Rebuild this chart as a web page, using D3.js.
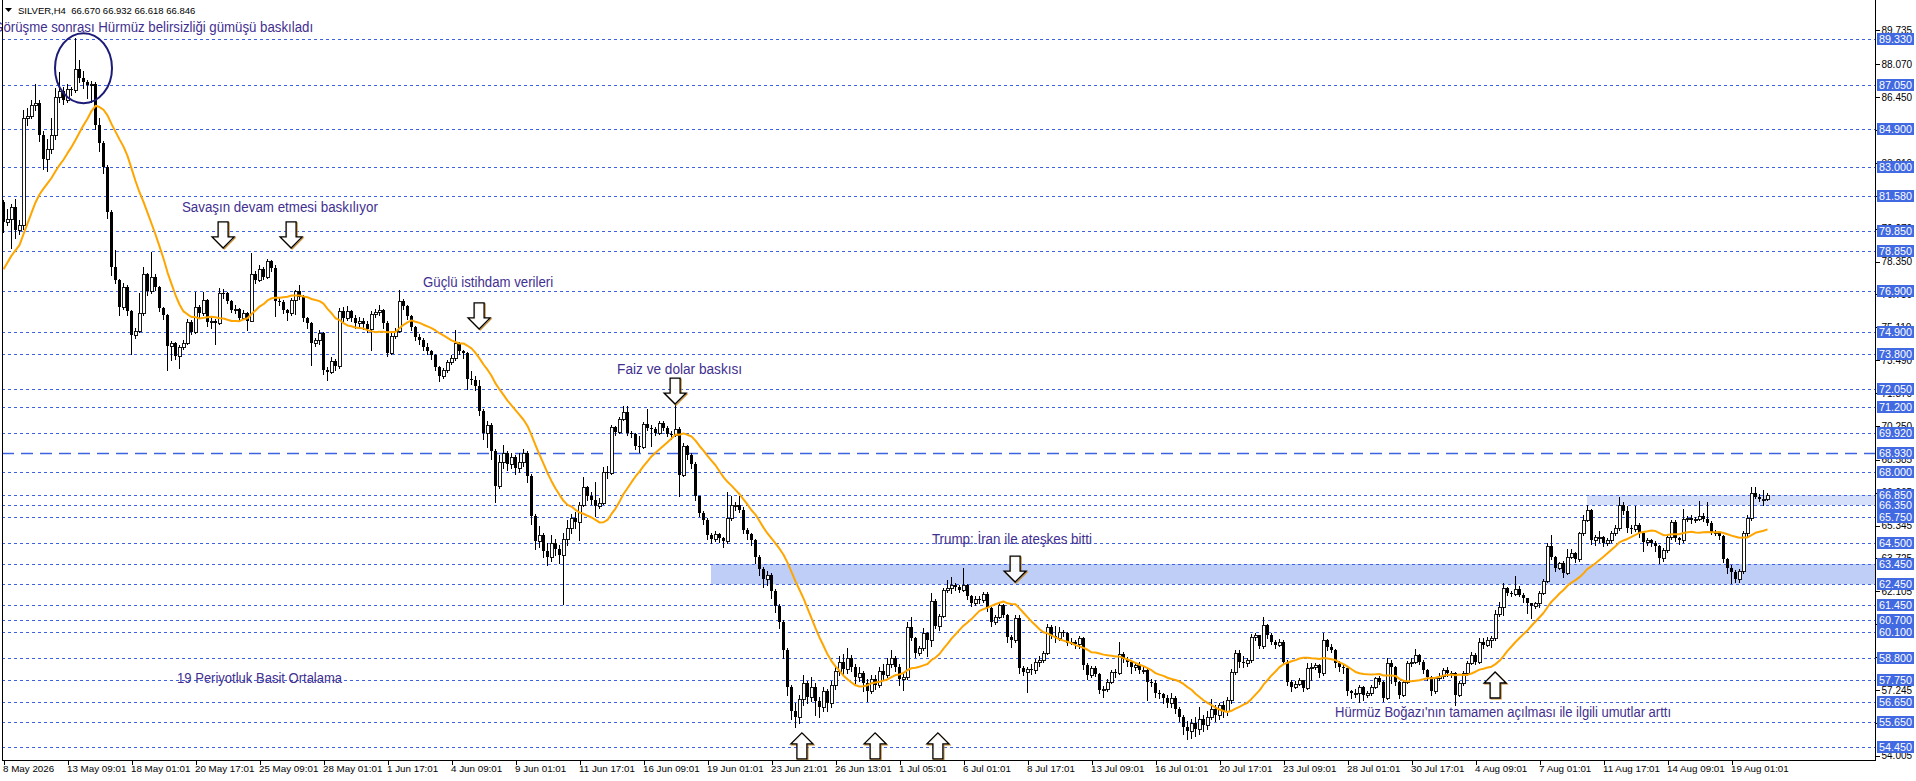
<!DOCTYPE html>
<html><head><meta charset="utf-8">
<script src="https://cdn.jsdelivr.net/npm/d3@7/dist/d3.min.js"></script>
<style>html,body{margin:0;padding:0;background:#fff;overflow:hidden}svg{display:block;font-family:"Liberation Sans",Arial,sans-serif}</style>
</head><body><svg id="c" width="1916" height="781"></svg>
<script>
// ---------------- DATA ----------------
const headerText = "SILVER,H4  66.670 66.932 66.618 66.846";
const firstOpen = 81.30;
// closes of the 18 H4 bars scrolled off the left edge (feed the 19-period SMA)
const priorCloses = [74.2,74.6,75.0,75.3,75.1,75.6,76.0,76.4,77.1,78.0,78.9,79.6,80.2,80.9,81.3,80.7,81.1,81.2];
const closes = [
80.32,80.45,81.05,79.90,80.15,85.40,85.50,86.05,86.15,84.60,
83.40,83.90,84.60,86.45,86.75,86.30,86.85,86.80,87.85,87.40,
87.20,87.05,87.12,85.10,84.20,83.00,80.80,78.10,77.45,76.13,
77.10,75.90,74.75,74.95,75.80,77.75,76.90,77.60,77.10,76.05,
75.70,74.20,74.35,73.70,74.15,74.35,75.35,74.90,76.10,75.80,
76.45,75.35,75.40,75.30,76.80,76.78,76.40,75.97,76.00,75.55,
75.80,75.40,77.75,77.45,78.00,77.60,78.40,78.05,76.40,76.35,
75.95,75.80,76.45,76.90,76.60,75.55,75.30,74.35,74.50,74.85,
73.00,72.90,73.45,73.20,75.90,75.55,75.90,75.55,75.30,75.40,
75.25,75.05,75.75,75.85,75.95,75.30,73.85,74.70,74.95,76.40,
76.15,75.65,75.15,74.65,74.50,74.15,73.95,73.75,73.15,72.70,
73.00,73.40,73.60,74.35,73.95,73.85,72.55,72.50,72.20,71.00,
69.90,70.30,69.00,67.30,68.50,68.90,68.40,68.70,68.20,68.50,
68.90,67.80,65.80,64.60,64.90,64.10,63.80,64.50,64.20,63.90,
64.70,65.20,65.70,65.50,66.35,67.25,66.80,66.60,66.30,66.45,
68.00,67.95,70.20,69.95,70.60,70.95,69.90,69.85,69.25,69.20,
70.35,70.15,70.10,69.90,70.40,70.15,69.85,69.80,70.12,67.85,
69.25,68.80,68.40,66.78,65.95,65.62,64.90,64.70,64.95,64.75,
64.60,65.70,66.35,66.38,66.12,65.13,64.95,64.65,63.80,63.20,
62.70,62.90,62.10,61.40,60.60,59.20,57.40,56.20,55.90,56.80,
57.60,56.90,57.40,56.70,56.40,57.20,56.60,57.50,58.20,58.60,
58.30,58.80,58.40,57.90,58.10,57.60,57.20,57.80,57.50,58.20,
58.00,58.50,58.80,58.40,57.80,57.90,60.37,59.80,59.05,59.30,
60.04,59.70,61.65,60.40,60.90,62.17,62.25,62.42,62.30,62.17,
62.42,61.85,61.52,61.71,61.68,61.96,61.27,60.61,60.85,61.45,
60.95,59.87,59.70,60.78,58.31,58.15,58.30,58.25,58.64,58.70,
59.05,60.37,59.90,59.80,60.12,60.05,59.55,59.60,59.50,59.80,
58.48,57.98,58.35,58.05,57.25,57.30,57.66,58.15,58.10,59.02,
58.76,58.60,58.40,58.48,58.23,58.25,57.66,57.61,57.08,57.05,
56.84,56.60,56.85,56.30,55.90,55.40,55.20,55.60,55.30,55.80,
55.50,55.90,56.30,56.00,56.50,56.20,56.75,58.15,59.05,58.60,
58.55,58.70,59.87,59.95,59.40,60.45,59.96,59.63,59.46,59.63,
58.64,57.66,57.41,57.55,57.74,57.33,58.31,58.40,58.48,58.07,
59.71,59.38,59.22,58.56,58.40,58.31,57.17,57.08,57.12,57.41,
57.00,57.08,57.41,57.82,57.66,56.84,58.56,58.40,57.66,57.00,
57.66,58.56,58.64,58.97,58.64,58.23,57.90,57.17,57.82,57.94,
58.23,58.07,58.07,57.00,57.58,58.07,58.56,58.97,58.64,59.63,
59.46,59.71,59.79,61.00,61.35,62.25,62.04,61.95,62.20,61.92,
61.76,61.51,61.38,61.51,62.04,62.63,64.34,63.81,63.24,63.48,
62.99,63.81,63.98,63.68,64.96,65.62,66.11,64.63,64.80,64.80,
64.47,64.63,64.96,65.21,66.36,66.06,65.21,65.16,65.37,64.96,
64.55,64.63,64.50,64.34,63.73,64.14,64.80,65.54,64.72,64.63,
65.66,65.74,65.60,65.66,65.84,65.66,65.49,65.04,65.04,64.83,
63.68,63.24,63.08,62.70,63.12,65.00,65.70,66.93,66.77,66.64,
66.67,66.846];
const highs = [
81.40,80.95,81.20,81.45,80.40,85.80,85.90,86.30,87.10,86.30,
84.80,84.40,85.40,86.90,87.70,86.95,87.10,86.95,89.35,88.30,
87.75,87.30,87.25,87.20,85.40,84.30,83.10,80.90,78.90,77.50,
77.30,77.20,75.95,75.10,76.80,78.10,77.80,78.80,77.75,77.15,
76.10,75.75,74.45,74.40,74.25,74.50,75.50,75.45,76.85,76.20,
76.85,76.50,75.60,75.50,77.05,77.00,76.85,76.45,76.20,76.05,
75.95,75.85,78.75,77.90,78.20,78.10,78.50,78.45,78.20,76.60,
76.45,76.00,76.55,76.95,77.20,76.70,75.60,75.35,74.60,75.00,
74.90,73.15,73.65,73.55,76.05,76.10,76.15,75.95,75.70,75.60,
75.55,75.40,75.90,76.00,76.20,76.00,75.40,74.95,75.10,76.95,
76.50,76.20,75.70,75.20,74.80,74.60,74.35,74.00,73.80,73.20,
73.10,73.50,73.75,75.00,74.40,74.00,73.90,72.95,72.70,72.50,
71.10,70.50,70.40,69.10,68.80,69.30,69.00,68.90,68.80,68.90,
69.10,69.00,67.90,65.90,65.30,65.00,64.50,64.90,64.70,64.40,
65.00,65.60,65.90,66.00,66.50,67.75,67.30,67.00,67.50,66.70,
68.25,68.30,70.30,70.25,70.70,71.25,71.25,70.00,69.90,69.75,
70.45,71.10,70.30,70.20,70.50,70.50,70.25,70.00,71.30,70.20,
69.40,69.30,68.90,68.50,66.80,66.05,65.70,65.00,65.10,65.00,
64.80,67.00,66.80,66.50,66.80,66.25,65.20,65.00,64.70,63.90,
63.30,63.10,63.00,62.20,61.50,60.70,59.30,57.50,56.60,57.00,
58.00,57.70,57.90,57.60,56.90,57.40,57.30,57.70,58.40,58.90,
59.00,59.30,58.95,58.50,58.40,58.20,57.80,58.00,58.00,58.40,
58.50,58.80,59.20,58.90,58.50,58.10,60.61,60.85,59.85,59.40,
60.30,60.10,62.00,61.75,61.00,62.25,62.67,62.83,62.50,62.40,
63.24,62.45,61.90,61.85,61.85,62.05,62.05,61.35,60.95,61.60,
61.50,61.00,59.95,60.95,60.95,58.45,58.40,58.50,58.75,58.90,
59.15,60.50,60.45,60.40,60.35,60.20,60.10,59.80,59.70,59.90,
59.85,58.55,58.45,58.45,58.10,57.45,57.80,58.25,58.30,59.63,
59.10,58.85,58.70,58.60,58.60,58.40,58.35,57.80,57.75,57.25,
57.10,57.00,57.10,56.95,56.40,56.00,55.70,55.80,55.90,56.40,
56.00,56.20,56.80,56.50,56.60,56.70,56.90,58.30,59.20,59.20,
58.90,58.80,60.00,60.05,59.95,60.86,60.50,60.05,59.70,59.75,
59.70,58.70,57.75,57.70,57.85,57.75,58.56,58.56,58.59,58.50,
60.04,59.75,59.50,59.25,58.65,58.50,58.35,57.25,57.30,57.50,
57.45,57.20,57.50,57.90,57.95,57.70,58.81,58.70,58.45,57.70,
57.75,58.65,58.80,59.25,59.00,58.70,58.30,57.95,57.90,58.10,
58.35,58.40,58.20,58.15,57.70,58.20,58.65,59.10,59.05,59.80,
59.80,59.85,59.90,61.20,61.60,62.50,62.30,62.10,62.85,62.35,
62.00,61.80,61.55,61.60,62.10,62.70,64.50,64.90,63.85,63.55,
63.60,64.20,64.20,64.05,65.05,65.85,66.36,66.15,64.90,65.10,
64.85,64.75,65.10,65.35,66.77,66.50,66.30,65.35,66.30,65.45,
65.00,64.75,64.70,64.60,64.40,64.25,64.90,65.60,65.60,64.80,
66.15,65.80,65.85,65.75,66.55,65.95,66.52,65.55,65.15,65.10,
64.90,63.75,63.40,63.15,63.20,65.10,65.85,67.26,67.26,66.90,
67.10,66.932];
const lows = [
79.82,80.15,79.00,79.50,79.70,79.95,85.10,85.40,85.80,84.30,
82.90,82.80,83.70,84.40,86.20,86.10,86.20,86.55,86.70,87.20,
86.90,86.40,86.20,84.90,83.80,82.70,80.50,77.70,77.30,75.72,
76.00,75.70,73.80,74.60,74.90,75.70,76.70,76.80,76.95,75.90,
75.50,73.00,73.50,73.55,73.10,74.05,74.30,74.80,74.85,75.60,
75.70,75.20,75.10,74.30,75.25,76.55,76.30,75.85,75.80,75.40,
75.50,75.00,75.40,77.30,77.40,77.50,77.55,77.90,75.65,76.20,
75.80,75.45,75.70,75.75,76.50,75.40,75.10,73.25,74.20,74.30,
72.80,72.50,72.85,73.00,73.10,75.40,75.45,75.40,75.10,75.20,
75.05,74.90,74.00,75.60,75.70,75.10,73.70,73.80,74.60,74.90,
76.00,75.50,75.00,74.50,74.30,74.00,73.80,73.55,73.00,72.45,
72.60,72.90,73.30,73.50,73.80,73.60,72.05,72.30,72.00,70.80,
69.60,69.20,68.60,66.50,67.20,68.20,68.10,68.20,67.90,68.00,
68.30,67.50,65.40,64.20,64.30,63.80,63.40,63.60,63.90,63.50,
61.50,64.40,65.00,65.20,64.65,66.30,66.60,66.40,65.80,66.20,
66.40,67.70,67.90,69.80,69.90,70.55,69.80,69.70,69.10,68.95,
69.15,70.05,69.25,69.80,69.85,70.05,69.75,69.60,69.75,66.80,
67.80,68.60,68.20,66.60,65.80,65.40,64.70,64.50,64.60,64.55,
64.30,64.50,65.60,66.10,66.00,65.00,64.70,64.40,63.50,62.90,
62.30,62.40,61.80,61.10,60.30,58.80,57.00,55.80,55.40,55.60,
56.50,56.60,56.70,56.00,55.90,56.20,56.20,56.40,57.30,58.00,
58.00,58.10,58.20,57.60,57.70,57.20,56.70,57.10,57.30,57.40,
57.80,57.90,58.40,58.20,57.50,57.25,57.80,59.70,58.89,58.95,
59.20,58.90,59.40,60.30,60.20,60.85,62.05,62.00,62.15,62.05,
62.10,61.75,61.40,61.45,61.55,61.60,61.15,60.40,60.50,60.80,
60.85,59.60,59.35,59.60,58.10,58.00,57.15,58.05,58.10,58.45,
58.60,59.00,59.80,59.60,59.70,59.90,59.45,59.50,59.30,59.30,
58.30,57.80,57.90,57.95,57.10,56.90,57.20,57.60,57.90,58.05,
58.60,58.45,58.10,58.25,58.10,58.10,56.75,57.45,56.90,56.85,
56.60,56.40,56.40,56.10,55.70,55.10,54.85,54.90,55.00,55.10,
55.20,55.30,55.80,55.70,55.80,55.90,56.00,56.60,58.05,58.40,
58.40,58.45,58.60,59.70,59.30,59.30,59.80,59.50,59.30,59.40,
58.50,57.50,57.20,57.35,57.50,57.17,57.30,57.74,58.30,57.90,
58.00,59.20,59.10,58.40,58.20,58.10,57.00,56.85,56.90,56.67,
56.76,56.90,57.00,57.35,57.55,56.70,56.80,57.60,57.50,56.85,
56.95,57.60,58.45,58.55,58.50,58.10,57.75,57.00,57.10,57.75,
57.85,57.95,57.90,56.51,56.95,57.50,58.00,58.50,58.50,58.55,
59.30,59.40,59.35,59.70,60.90,60.94,61.90,61.85,61.90,61.85,
61.60,61.02,60.78,61.30,61.35,61.95,62.55,63.70,63.10,63.20,
62.80,62.95,63.75,63.55,63.60,64.90,65.55,64.45,64.40,64.55,
64.35,64.40,64.55,64.90,65.15,65.90,65.05,65.00,65.10,64.80,
64.10,64.40,64.35,64.10,63.50,63.60,64.05,64.70,64.60,64.45,
64.55,65.55,65.45,65.50,65.60,65.55,65.35,64.95,64.90,64.70,
63.55,63.00,62.50,62.55,62.55,63.00,64.85,65.60,66.70,66.55,
66.36,66.618];

const dateTickIndex = [0,16,32,48,64,80,96,112,128,144,160,176,192,208,224,240,256,272,288,304,320,336,352,368,384,400,416,432];
const dateTickLabels = ["8 May 2026","13 May 09:01","18 May 01:01","20 May 17:01","25 May 09:01","28 May 01:01","1 Jun 17:01","4 Jun 09:01","9 Jun 01:01","11 Jun 17:01","16 Jun 09:01","19 Jun 01:01","23 Jun 21:01","26 Jun 13:01","1 Jul 05:01","6 Jul 01:01","8 Jul 17:01","13 Jul 09:01","16 Jul 01:01","20 Jul 17:01","23 Jul 09:01","28 Jul 01:01","30 Jul 17:01","4 Aug 09:01","7 Aug 01:01","11 Aug 17:01","14 Aug 09:01","19 Aug 01:01"];
const priceTicks = [89.735,88.070,86.450,84.830,83.210,81.590,79.970,78.350,76.730,75.110,73.490,71.870,70.250,68.585,66.965,65.345,63.725,62.105,60.485,58.865,57.245,55.625,54.005];
const levels = [89.33,87.05,84.90,83.00,81.58,79.85,78.85,76.90,74.90,73.80,72.05,71.20,69.92,68.00,66.85,66.35,65.75,64.50,63.45,62.45,61.45,60.70,60.10,58.80,57.75,56.65,55.65,54.45];
const longDashLevel = 68.93;
const bandFrom = [177, 396];      // first bar of each zone
const bandLow  = [62.45, 66.35];
const bandHigh = [63.45, 66.85];
const noteTexts  = ["Görüşme sonrası Hürmüz belirsizliği gümüşü baskıladı","Savaşın devam etmesi baskılıyor","Güçlü istihdam verileri","Faiz ve dolar baskısı","Trump: İran ile ateşkes bitti","19 Periyotluk Basit Ortalama","Hürmüz Boğazı'nın tamamen açılması ile ilgili umutlar arttı"];
const noteBar    = [-2.6, 44.6, 104.9, 153.4, 232.1, 43.4, 332.9];
const notePrice  = [89.91, 81.04, 77.35, 73.05, 64.70, 57.84, 56.15];
const downArrowBar   = [54.9, 71.9, 118.9, 167.9, 252.9];
const downArrowPrice = [79.02, 79.02, 75.03, 71.33, 62.56];
const upArrowBar   = [199.6, 217.9, 233.6, 372.9];
const upArrowPrice = [55.13, 55.13, 55.13, 58.13];
const peakBar = 20, peakPrice = 87.88;
const maPeriod = 19;

// ---------------- LAYOUT ----------------
const L = 2, R = 1875, T = 0, B = 760;
const svg = d3.select('#c');
const x = d3.scaleLinear().domain([0, 441]).range([3.5, 1767.5]);
const y = d3.scaleLinear().domain([54.45, 89.33]).range([746.7, 38.7]);
const py = v => Math.round(y(v)) + 0.5;
const noteWidths = [320, 196, 130, 125, 160, 165, 336];
const BLUE = '#3d63e0', LABEL = '#4169e1', NOTE = '#3f2f8f';

svg.append('rect').attr('width',1916).attr('height',781).attr('fill','#fff');
svg.append('defs').append('clipPath').attr('id','plot').append('rect')
  .attr('x',L).attr('y',T).attr('width',R-L).attr('height',B-T);
const plot = svg.append('g').attr('clip-path','url(#plot)');

// zones
plot.selectAll('rect.band').data(bandFrom).join('rect')
  .attr('x', d => Math.round(x(d) - 0.5)).attr('width', (d) => R - Math.round(x(d) - 0.5))
  .attr('y', (d,k) => y(bandHigh[k])).attr('height', (d,k) => y(bandLow[k]) - y(bandHigh[k]))
  .attr('fill', (d,k) => k === 0 ? '#bfcef6' : '#d5dff9');

// horizontal levels
plot.selectAll('line.lvl').data(levels).join('line')
  .attr('x1', L).attr('x2', R).attr('y1', py).attr('y2', py)
  .attr('stroke', BLUE).attr('stroke-width',1).attr('stroke-dasharray','3,3');
plot.append('line').attr('x1',L).attr('x2',R).attr('y1',py(longDashLevel)).attr('y2',py(longDashLevel))
  .attr('stroke', BLUE).attr('stroke-width',1.3).attr('stroke-dasharray','12,7');

// candles
const candles = closes.map((c,i) => {
  const o = i === 0 ? firstOpen : closes[i-1];
  return {i, o, c, h: Math.max(highs[i], o, c), l: Math.min(lows[i], o, c)};
});
const cg = plot.append('g').attr('shape-rendering','crispEdges');
cg.selectAll('line').data(candles).join('line')
  .attr('x1', d => x(d.i)).attr('x2', d => x(d.i))
  .attr('y1', d => Math.round(y(d.h))).attr('y2', d => Math.round(y(d.l)) + 1)
  .attr('stroke','#000').attr('stroke-width',1);
cg.selectAll('rect').data(candles).join('rect')
  .attr('x', d => x(d.i) - 1.5).attr('width', 3)
  .attr('y', d => Math.round(y(Math.max(d.o,d.c))))
  .attr('height', d => Math.max(1, Math.round(y(Math.min(d.o,d.c))) - Math.round(y(Math.max(d.o,d.c)))))
  .attr('fill', d => d.c >= d.o ? '#fff' : '#000')
  .attr('stroke', '#000').attr('stroke-width', d => d.c >= d.o ? 0.9 : 0);

// 19-period simple moving average
const allC = priorCloses.concat(closes);
const ma = closes.map((c,i) => { const k = i + priorCloses.length; return d3.mean(allC.slice(k - maPeriod + 1, k + 1)); });
plot.append('path').datum(ma)
  .attr('d', d3.line().x((d,i) => x(i)).y(d => y(d)))
  .attr('fill','none').attr('stroke','#ffa500').attr('stroke-width',2).attr('stroke-linejoin','round');

// circle around the top
plot.append('ellipse').attr('cx', x(peakBar)).attr('cy', y(peakPrice)).attr('rx', 28.5).attr('ry', 35)
  .attr('fill','none').attr('stroke','#1c1c78').attr('stroke-width',2);

// arrows
function arrowPath(tx, ty, dir) {
  const s = dir; // 1 = down (tip at bottom), -1 = up (tip at top)
  const p = [[0,0],[11,-11*s],[5,-11*s],[5,-26*s],[-5,-26*s],[-5,-11*s],[-11,-11*s]];
  return 'M' + p.map(q => (tx+q[0]) + ',' + (ty+q[1])).join('L') + 'Z';
}
const arrows = downArrowBar.map((b,k) => ({tx: x(b), ty: y(downArrowPrice[k]), dir: 1}))
  .concat(upArrowBar.map((b,k) => ({tx: x(b), ty: y(upArrowPrice[k]), dir: -1})));
const ag = svg.append('g');
ag.selectAll('path.sh').data(arrows).join('path')
  .attr('d', d => arrowPath(d.tx + 1, d.ty + 1, d.dir)).attr('fill','none')
  .attr('stroke','#c98a2a').attr('stroke-width',1.2);
ag.selectAll('path.ar').data(arrows).join('path')
  .attr('d', d => arrowPath(d.tx, d.ty, d.dir)).attr('fill','#fff').attr('fill-opacity',0.9)
  .attr('stroke','#000').attr('stroke-width',1.3).attr('stroke-linejoin','miter');

// notes
svg.append('g').selectAll('text').data(noteTexts).join('text')
  .attr('x', (d,k) => x(noteBar[k])).attr('y', (d,k) => y(notePrice[k]) + 5)
  .attr('textLength', (d,k) => noteWidths[k]).attr('lengthAdjust','spacingAndGlyphs')
  .attr('font-size', 14).attr('fill', NOTE).text(d => d);

// frame
const fg = svg.append('g').attr('shape-rendering','crispEdges').attr('stroke','#000');
fg.append('line').attr('x1',L+0.5).attr('x2',L+0.5).attr('y1',T).attr('y2',B+1);
fg.append('line').attr('x1',R+0.5).attr('x2',R+0.5).attr('y1',T).attr('y2',B+1);
fg.append('line').attr('x1',L).attr('x2',R+1).attr('y1',B+0.5).attr('y2',B+0.5);

// price axis
const ya = svg.append('g').attr('transform', `translate(${R+0.5},0)`)
  .call(d3.axisRight(y).tickValues(priceTicks).tickSize(4).tickPadding(2).tickFormat(d3.format('.3f')));
ya.select('.domain').remove();
ya.selectAll('text').attr('font-size',10).attr('font-family','"Liberation Sans",Arial,sans-serif').attr('fill','#000');
ya.selectAll('line').attr('stroke','#000').attr('shape-rendering','crispEdges');

// time axis
const xa = svg.append('g').attr('transform', `translate(0,${B+0.5})`)
  .call(d3.axisBottom(x).tickValues(dateTickIndex).tickSize(4).tickPadding(1).tickFormat((d,k) => dateTickLabels[k]));
xa.select('.domain').remove();
xa.selectAll('text').attr('text-anchor','start').attr('x',-1).attr('font-size',9.8)
  .attr('font-family','"Liberation Sans",Arial,sans-serif').attr('fill','#000');
xa.selectAll('line').attr('stroke','#000').attr('shape-rendering','crispEdges');

// level price labels
const lg = svg.append('g');
const lblLevels = levels.concat([longDashLevel]);
lg.selectAll('rect').data(lblLevels).join('rect')
  .attr('x', R + 2).attr('width', 37).attr('y', d => Math.round(y(d)) - 6).attr('height', 12)
  .attr('fill', LABEL).attr('shape-rendering','crispEdges');
lg.selectAll('text').data(lblLevels).join('text')
  .attr('x', R + 4).attr('y', d => Math.round(y(d)) + 4)
  .attr('font-size', 10.8).attr('fill','#fff').text(d => d3.format('.3f')(d));

// header
svg.append('path').attr('d','M5,8L12,8L8.5,12Z').attr('fill','#000');
svg.append('text').attr('x',18).attr('y',13.5).attr('font-size',9.5).attr('fill','#000')
  .attr('xml:space','preserve').style('white-space','pre').text(headerText);
</script></body></html>
